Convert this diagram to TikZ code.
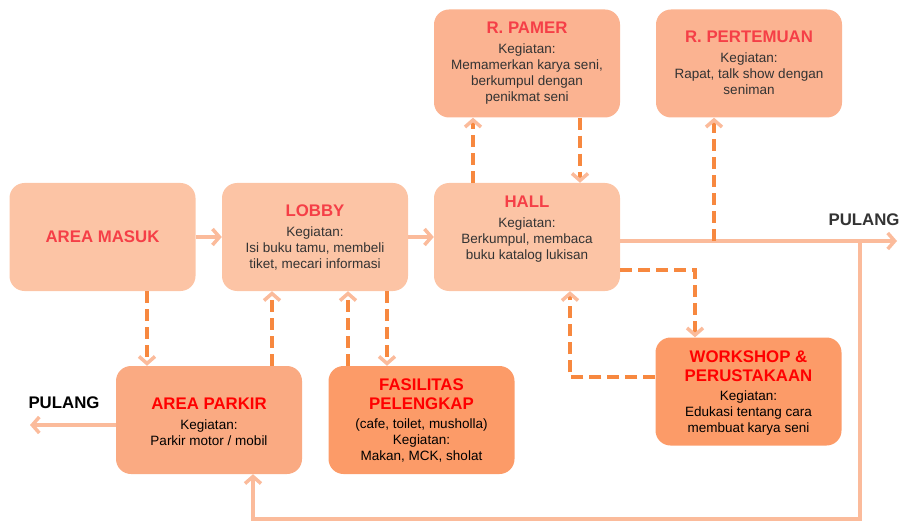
\documentclass[tikz,border=0pt]{standalone}
\usepackage{fontspec}
\setmainfont{Liberation Sans}
\usetikzlibrary{arrows.meta}

\definecolor{mudaPeach}{HTML}{FCC4A5}
\definecolor{atasPeach}{HTML}{FBB391}
\definecolor{parkirPeach}{HTML}{FAAA82}
\definecolor{tuaOrange}{HTML}{FC9B68}
\definecolor{panahPeach}{HTML}{FBBB9B}
\definecolor{putusOrange}{HTML}{F7883F}
\definecolor{judulMerah}{HTML}{F53F47}
\definecolor{teksAbu}{HTML}{333333}

\newcommand{\ttl}[2][judulMerah]{{\fontsize{16.8}{19}\selectfont\bfseries\color{#1}#2}}

\tikzset{
  box/.style={rounded corners=15pt, minimum width=186pt, minimum height=108pt, inner sep=0pt, fill=#1},
  info/.style={anchor=north, align=center, inner sep=0pt, font=\fontsize{13.5}{16}\selectfont, text=#1},
  flow/.style={line width=3.5pt, draw=panahPeach, -{Straight Barb[length=7pt,width=16pt]}},
  back/.style={line width=3.5pt, draw=putusOrange, dash pattern=on 12pt off 6pt,
    -{Straight Barb[length=7pt,width=16pt,color=panahPeach]}},
  pulang/.style={font=\fontsize{16.8}{19}\selectfont\bfseries, inner sep=0pt, text=#1}
}

\begin{document}
\begin{tikzpicture}[x=1pt,y=-1pt]
  \useasboundingbox (0,0) rectangle (901,521);

  \node[box=mudaPeach] (masuk) at (102.5,237) {};
  \node[box=mudaPeach] (lobby) at (315,237) {};
  \node[box=mudaPeach] (hall) at (527,237) {};
  \node[box=atasPeach] (pamer) at (527,63.5) {};
  \node[box=atasPeach] (temu) at (749,63.5) {};
  \node[box=parkirPeach] (parkir) at (209,420) {};
  \node[box=tuaOrange] (fasil) at (421.5,420) {};
  \node[box=tuaOrange] (work) at (748.5,391.5) {};

  \node[inner sep=0pt] (tMasuk) at (masuk) {\ttl{AREA MASUK}};
  \node[info=teksAbu] (tLobby) at ([yshift=-22pt]lobby.north) {\ttl{LOBBY}\\[4pt] Kegiatan:\\ Isi buku tamu, membeli\\ tiket, mecari informasi};
  \node[info=teksAbu] (tHall) at ([yshift=-13pt]hall.north) {\ttl{HALL}\\[4pt] Kegiatan:\\ Berkumpul, membaca\\ buku katalog lukisan};
  \node[info=teksAbu] (tPamer) at ([yshift=-12pt]pamer.north) {\ttl{R. PAMER}\\[4pt] Kegiatan:\\ Memamerkan karya seni,\\ berkumpul dengan\\ penikmat seni};
  \node[info=teksAbu] (tTemu) at ([yshift=-21pt]temu.north) {\ttl{R. PERTEMUAN}\\[4pt] Kegiatan:\\ Rapat, talk show dengan\\ seniman};
  \node[info=black] (tParkir) at ([yshift=-32pt]parkir.north) {\ttl[red]{AREA PARKIR}\\[4pt] Kegiatan:\\ Parkir motor / mobil};
  \node[info=black] (tFasil) at ([yshift=-13pt]fasil.north) {\ttl[red]{FASILITAS}\\[3pt] \ttl[red]{PELENGKAP}\\[3pt] (cafe, toilet, musholla)\\ Kegiatan:\\ Makan, MCK, sholat};
  \node[info=black] (tWork) at ([yshift=-13pt]work.north) {\ttl[red]{WORKSHOP \&}\\[3pt] \ttl[red]{PERUSTAKAAN}\\[3pt] Kegiatan:\\ Edukasi tentang cara\\ membuat karya seni};

  \coordinate (keluarR) at (897,241);
  \coordinate (keluarL) at (30,425);
  \coordinate (putar) at (860,519);
  \coordinate (cabang) at (714,241);
  \node[pulang=teksAbu] (pulangR) at (864,220) {PULANG};
  \node[pulang=black] (pulangL) at (64,403) {PULANG};

  \draw[flow] (masuk.east) -- (lobby.west);
  \draw[flow] (lobby.east) -- (hall.west);
  \draw[flow] (keluarR -| hall.east) -- (keluarR);
  \draw[flow] (putar |- keluarR) -- (putar) -| ([xshift=44pt]parkir.south);
  \draw[flow] ([yshift=-5pt]parkir.west) -- (keluarL);

  \draw[back] (cabang) -- (cabang |- temu.south);
  \draw[back] ([xshift=-54pt]hall.north) -- ([xshift=-54pt]pamer.south);
  \draw[back] ([xshift=53pt]pamer.south) -- ([xshift=53pt]hall.north);
  \draw[back] ([yshift=-33pt]hall.east) -| ([xshift=-53.5pt]work.north);
  \draw[back] ([yshift=14.5pt]work.west) -| ([xshift=43pt]hall.south);
  \draw[back] ([xshift=44.5pt]masuk.south) -- ([xshift=44.5pt]masuk.south |- parkir.north);
  \draw[back] ([xshift=63pt]parkir.north) -- ([xshift=63pt]parkir.north |- lobby.south);
  \draw[back] ([xshift=-73.5pt]fasil.north) -- ([xshift=-73.5pt]fasil.north |- lobby.south);
  \draw[back] ([xshift=-34.5pt]fasil.north |- lobby.south) -- ([xshift=-34.5pt]fasil.north);
\end{tikzpicture}
\end{document}
